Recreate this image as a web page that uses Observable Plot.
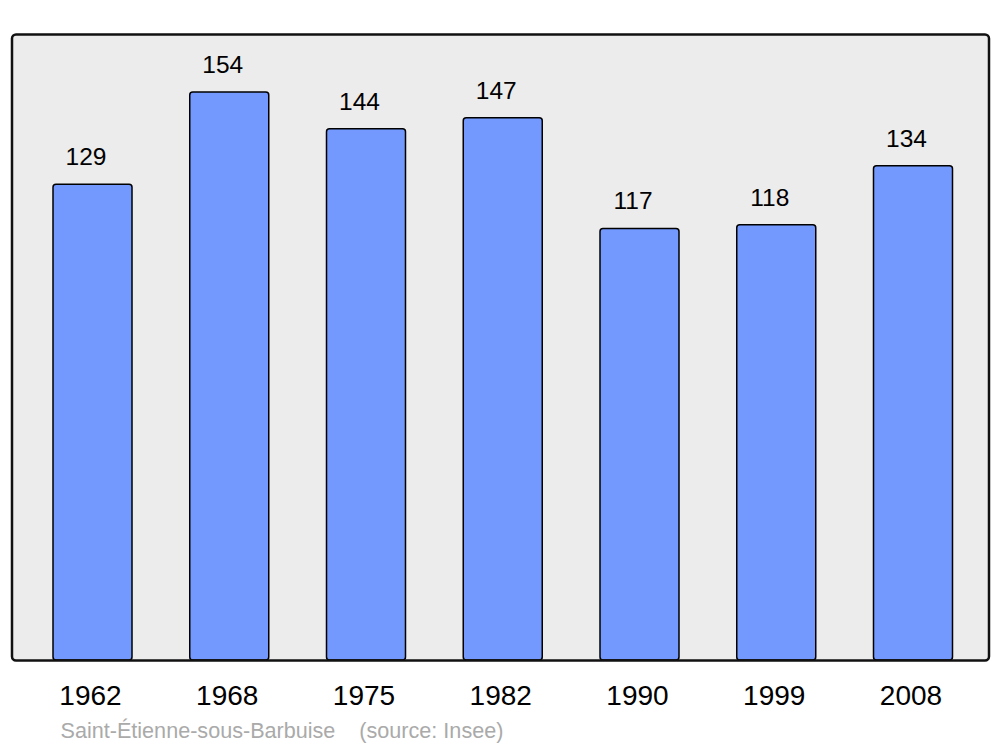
<!DOCTYPE html>
<html>
<head>
<meta charset="utf-8">
<script src="https://cdn.jsdelivr.net/npm/d3@7"></script>
<script src="https://cdn.jsdelivr.net/npm/@observablehq/plot@0.6"></script>
<style>
  html, body { margin: 0; padding: 0; background: #ffffff; }
  #chart svg { display: block; }
  #caption {
    margin: 0; padding-left: 60.5px; height: 28px;
    font-family: "Liberation Sans", Arial, sans-serif; font-size: 21.6px; line-height: 24px;
    color: #aaaaaa; white-space: pre;
  }
</style>
</head>
<body>
<div id="chart"></div>
<div id="caption"></div>
<script>
const years = ["1962", "1968", "1975", "1982", "1990", "1999", "2008"];
const population = [129, 154, 144, 147, 117, 118, 134];
const placeName = "Saint-Étienne-sous-Barbuise";
const sourceText = "(source: Insee)";

const data = years.map((year, i) => ({year, value: population[i]}));

const chart = Plot.plot({
  width: 1000,
  height: 719,
  marginTop: 34,
  marginBottom: 59,
  marginLeft: 11.5,
  marginRight: 11.5,
  style: {fontFamily: "Liberation Sans, Arial, sans-serif", background: "#ffffff", color: "#000000"},
  x: {type: "band", domain: years, paddingInner: 0.4223, paddingOuter: 0.2834, align: 0.5355, round: false, label: null},
  y: {domain: [0, 169.7], axis: null},
  marks: [
    Plot.frame({fill: "#ececec", stroke: "none", rx: 4}),
    Plot.barY(data, {x: "year", y: "value", fill: "#7399ff", stroke: "#000000", strokeWidth: 1.5, rx: 3}),
    Plot.text(data, {x: "year", y: "value", text: d => String(d.value), fontSize: 24.5, fill: "#000000",
      lineAnchor: "bottom", dy: -19.5, dx: -7}),
    Plot.frame({fill: "none", stroke: "#111111", strokeWidth: 2.5, rx: 4}),
    Plot.axisX({tickSize: 0, tickPadding: 25, fontSize: 28, label: null, dx: -2.5, fill: "#000000"})
  ]
});
document.getElementById("chart").appendChild(chart);
document.getElementById("caption").textContent = placeName + "    " + sourceText;
</script>
</body>
</html>
